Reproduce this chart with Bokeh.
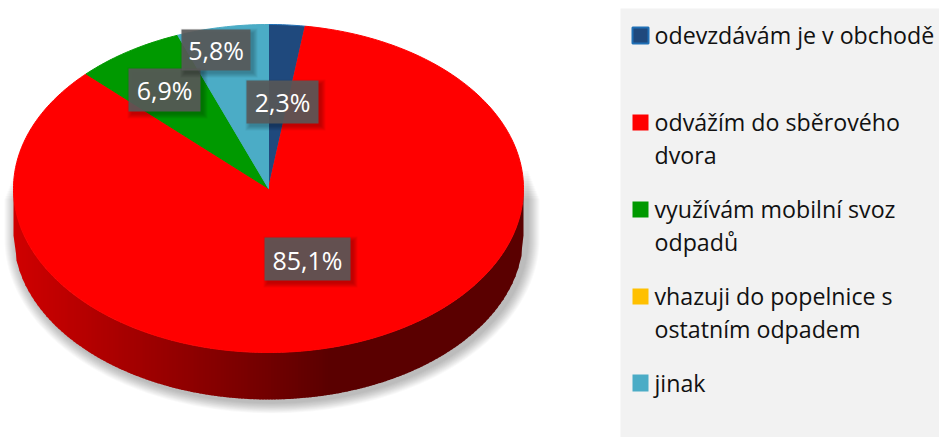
import numpy as np
from bokeh.plotting import figure
from bokeh.models import Range1d
from bokeh.core.properties import value
from bokeh.embed import file_html
from bokeh.resources import INLINE

categories = ["odevzdávám je v obchodě", "odvážím do sběrového dvora",
              "využívám mobilní svoz odpadů", "vhazuji do popelnice s ostatním odpadem", "jinak"]
values = [2.3, 85.1, 6.9, 0.0, 5.8]
labels = ["2,3%", "85,1%", "6,9%", "", "5,8%"]
colors = ["#1f497d", "#ff0000", "#009900", "#ffc000", "#4bacc6"]
edges = ["#1f6fb5", "#ff0000", "#009900", "#ffc000", "#4bacc6"]

# layout (pixel positions of the image)
FONT = "Open Sans"
W, H = 939, 437
CX, CY, RX, RY, DEPTH = 268, 188, 255, 164, 47
label_boxes = [(246, 318, 80, 123, 101), (264, 350, 237, 280, 259), (128, 200, 68, 111, 89), None, (181, 250, 29, 70, 49)]
legend_rows = [
    (["odevzdávám je v obchodě"], [34], (632, 648, 27, 43)),
    (["odvážím do sběrového", "dvora"], [121, 154], (632, 648, 114, 130)),
    (["využívám mobilní svoz", "odpadů"], [208, 241], (632, 648, 201, 217)),
    (["vhazuji do popelnice s", "ostatním odpadem"], [295, 328], (632, 648, 288, 304)),
    (["jinak"], [382], (632, 648, 374, 391)),
]

p = figure(width=W, height=H, x_range=Range1d(0, W), y_range=Range1d(H, 0),
           toolbar_location=None, output_backend="svg", min_border=0,
           x_axis_location=None, y_axis_location=None, outline_line_color=None,
           background_fill_color="white", border_fill_color="white")
p.grid.visible = False

# soft shadow under the pie
for k in range(12, 0, -1):
    t = np.linspace(np.pi / 2, 3 * np.pi / 2, 160)
    rx = RX + k * 1.0 + 0.5
    sx = CX + 3.5 + rx * np.sin(t)
    sy = CY + 3 + DEPTH + (RY + k * 0.9) * -np.cos(t)
    top_y = CY - 20 + 2.5 * k
    xs = np.r_[sx, sx[-1], sx[0]]
    ys = np.r_[sy, top_y, top_y]
    p.patch(xs, ys, fill_color="#000000", fill_alpha=0.022, line_color=None)

# rim: gradient strips across the visible front wall
GRAD_END = 330
left, right = CX - RX, CX + RX
strip_x = np.arange(left, right, 3.0)
sxs, sys, scol = [], [], []
c0, c1 = 208, 90
for x0 in strip_x:
    x1 = min(x0 + 4.0, right)
    u = np.clip((np.array([x0, x1]) - CX) / RX, -1, 1)
    top = CY + RY * np.sqrt(1 - u ** 2)
    sxs.append([x0, x1, x1, x0])
    sys.append([top[0], top[1], top[1] + DEPTH, top[0] + DEPTH])
    f = min(1.0, max(0.0, (x0 - left) / (GRAD_END - left)))
    scol.append("#%02x0000" % int(c0 + (c1 - c0) * f))
p.patches(sxs, sys, fill_color=scol, line_color=None)

# top face, drawn clockwise from 12 o'clock
norm = np.array(values) / sum(values)
starts = np.r_[0, np.cumsum(norm)[:-1]] * 2 * np.pi
for v, a0, col, ec in zip(norm, starts, colors, edges):
    if v == 0:
        continue
    t = np.linspace(a0, a0 + v * 2 * np.pi, max(4, int(v * 400)))
    xs = np.r_[CX, CX + RX * np.sin(t)]
    ys = np.r_[CY, CY - RY * np.cos(t)]
    p.patch(xs, ys, fill_color=col, line_color=ec, line_width=1)

# data labels
for txt, box in zip(labels, label_boxes):
    if box is None:
        continue
    x0, x1, y0, y1, mid = box
    for k in range(5, 0, -1):
        p.quad(left=[x0 + 4 - k], right=[x1 + 2 + k], top=[y0 + 4 - k], bottom=[y1 + 2 + k],
               fill_color="#000000", fill_alpha=0.05, line_color=None)
    p.quad(left=[x0], right=[x1], top=[y0], bottom=[y1], fill_color="#595959", fill_alpha=0.9, line_color=None)
    p.text(x=[(x0 + x1) / 2], y=[mid], text=[txt], text_color="#ffffff",
           text_font=value(FONT), text_font_size="25px", text_align="center", text_baseline="middle")

# legend panel
p.quad(left=[620], right=[W], top=[8], bottom=[H], fill_color="#f2f2f2", line_color=None)
for i, (lines, ys, sq) in enumerate(legend_rows):
    x0, x1, y0, y1 = sq
    p.quad(left=[x0], right=[x1], top=[y0], bottom=[y1], fill_color=colors[i],
           line_color=edges[i] if i == 0 else None, line_width=2)
    p.text(x=[654] * len(lines), y=ys, text=lines, text_color="#111111", text_font=value(FONT),
           text_font_size="23.2px", text_align="left", text_baseline="middle")

open("out.html", "w").write(file_html(p, INLINE))
